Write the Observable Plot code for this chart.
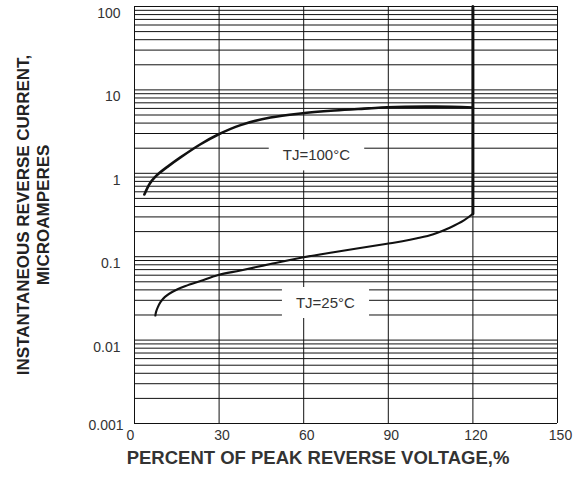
<!DOCTYPE html>
<html><head><meta charset="utf-8">
<script src="https://cdn.jsdelivr.net/npm/d3@7"></script>
<script src="https://cdn.jsdelivr.net/npm/@observablehq/plot@0.6"></script>
<style>
html,body{margin:0;padding:0;background:#fff;}
</style></head><body><div id="chart"></div>
<script>
// TJ = 100°C curve
const pctVoltage100 = [3.5, 4.5, 5.5, 7.0, 9.0, 12.0, 16.3, 23.4, 29.7, 37.6, 48.2, 58.9, 71, 83, 89.6, 106.8, 120];
const current100 = [0.557, 0.66, 0.76, 0.88, 1.02, 1.22, 1.55, 2.23, 2.92, 3.78, 4.66, 5.22, 5.66, 6.0, 6.2, 6.3, 6.15];
// TJ = 25°C curve
const pctVoltage25 = [7.4, 7.6, 8.2, 9.2, 10.8, 13.5, 18.1, 23.4, 29.7, 37.6, 48.2, 59.5, 70.6, 89, 95, 100.2, 106, 112, 116.8, 120];
const current25 = [0.0197, 0.0215, 0.0245, 0.0285, 0.033, 0.038, 0.0446, 0.0512, 0.0604, 0.0684, 0.0817, 0.0977, 0.113, 0.142, 0.153, 0.166, 0.186, 0.224, 0.272, 0.327];
// breakdown (vertical) segment at 120 %
const breakdownVoltage = [120, 120];
const breakdownCurrent = [0.327, 100];
// ticks
const xTicks = [0, 30, 60, 90, 120, 150];
const yTicks = [100, 10, 1, 0.1, 0.01];
const yTickBottom = [0.001];
// curve labels
const labelText = ["TJ=100\u00B0C", "TJ=25\u00B0C"];
const labelX = [64.5, 67.7];
const labelY = [1.63, 0.0277];

const yGrid = [];
for (let e = -3; e <= 1; e++) for (let m = 1; m <= 9; m++) yGrid.push(+(m * 10 ** e).toPrecision(3));
yGrid.push(100);

const ink = "#111";
const txt = "#333";

const plot = Plot.plot({
  width: 580, height: 477,
  marginLeft: 134, marginRight: 23, marginTop: 6, marginBottom: 54,
  style: {fontFamily: "'Liberation Sans', Arial, sans-serif", fontSize: "14px", color: txt, background: "#fff"},
  x: {domain: [0, 150]},
  y: {type: "log", domain: [0.001, 100]},
  marks: [
    Plot.gridY(yGrid, {stroke: ink, strokeOpacity: 1, strokeWidth: 1}),
    Plot.gridX(xTicks, {stroke: ink, strokeOpacity: 1, strokeWidth: 1}),
    Plot.axisX(xTicks.slice(1), {tickSize: 0, tickPadding: 7, dx: 3, label: null, fill: txt}),
    Plot.axisX([0], {tickSize: 0, tickPadding: 7, dx: -4, label: null, fill: txt}),
    Plot.axisY(yTicks, {tickSize: 0, tickPadding: 14, dy: 7, tickFormat: d => String(d), label: null, fill: txt}),
    Plot.axisY(yTickBottom, {tickSize: 0, tickPadding: 11, dy: 2, tickFormat: d => String(d), label: null, fill: txt}),
    Plot.text(labelText, {x: labelX, y: labelY, text: labelText, fontSize: 15, fill: txt}),
    Plot.line(current100, {x: pctVoltage100, y: current100, curve: "catmull-rom", stroke: ink, strokeWidth: 2.6}),
    Plot.line(current25, {x: pctVoltage25, y: current25, curve: "catmull-rom", stroke: ink, strokeWidth: 2.1}),
    Plot.line(breakdownCurrent, {x: breakdownVoltage, y: breakdownCurrent, stroke: ink, strokeWidth: 3}),
    Plot.text(["PERCENT OF PEAK REVERSE VOLTAGE,%"], {frameAnchor: "bottom", textAnchor: "middle", dy: 40, dx: -28, fontSize: 18.5, fontWeight: "bold", fill: txt}),
    Plot.text(["INSTANTANEOUS REVERSE CURRENT,\nMICROAMPERES"], {frameAnchor: "left", textAnchor: "middle", rotate: -90, dx: -102, dy: 0, fontSize: 17, fontWeight: "bold", lineHeight: 1.2, fill: "#222"})
  ]
});
document.getElementById("chart").append(plot);

// white boxes behind the curve labels (first text mark)
const lg = plot.querySelector('g[aria-label="text"]');
if (lg) {
  lg.querySelectorAll("text").forEach(t => {
    const b = t.getBBox();
    const r = document.createElementNS("http://www.w3.org/2000/svg", "rect");
    r.setAttribute("x", b.x - 14);
    r.setAttribute("y", b.y - 7);
    r.setAttribute("width", b.width + 28);
    r.setAttribute("height", b.height + 14);
    r.setAttribute("fill", "#fff");
    if (t.getAttribute("transform")) r.setAttribute("transform", t.getAttribute("transform"));
    lg.insertBefore(r, t);
  });
}
</script></body></html>
